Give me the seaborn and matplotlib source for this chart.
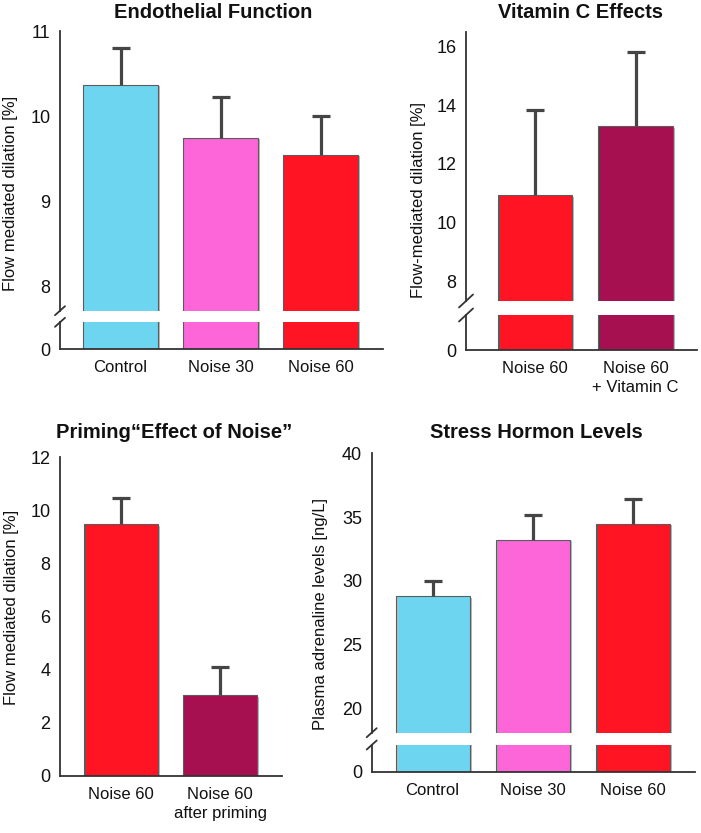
import numpy as np
import pandas as pd
import matplotlib
matplotlib.use("Agg")
import matplotlib.pyplot as plt
import matplotlib.patheffects as pe
from matplotlib.lines import Line2D
import seaborn as sns

# ---------------- data ----------------
endo_groups = ["Control", "Noise 30", "Noise 60"]
endo_mean = [10.37, 9.75, 9.55]
endo_top = [10.80, 10.23, 10.00]

vitc_groups = ["Noise 60", "Noise 60\n+ Vitamin C"]
vitc_mean = [10.93, 13.28]
vitc_top = [13.83, 15.81]

prim_groups = ["Noise 60", "Noise 60\nafter priming"]
prim_mean = [9.49, 3.04]
prim_top = [10.46, 4.09]

stress_groups = ["Control", "Noise 30", "Noise 60"]
stress_mean = [28.82, 33.22, 34.47]
stress_top = [29.95, 35.18, 36.43]

endo_ticks = [8, 9, 10, 11]
vitc_ticks = [8, 10, 12, 14, 16]
prim_ticks = [0, 2, 4, 6, 8, 10, 12]
stress_ticks = [20, 25, 30, 35, 40]

CYAN, PINK, RED, MAROON = "#6dd5ef", "#fc66d8", "#ff1423", "#a60f50"

# ---------------- style ----------------
sns.set_style("white")
plt.rcParams["font.family"] = ["Liberation Sans", "DejaVu Sans"]
SPINE = "#333333"
FS = 12

W, H = 701, 833
fig = plt.figure(figsize=(W / 100, H / 100), dpi=100)


def px_axes(left, top, right, bottom):
    return fig.add_axes([left / W, 1 - bottom / H, (right - left) / W, (bottom - top) / H])


def draw_bars(ax, groups, means, colors, width):
    df = pd.DataFrame({"group": groups, "value": means})
    sns.barplot(data=df, x="group", y="value", hue="group", order=groups,
                hue_order=groups, palette=colors, legend=False, width=width,
                saturation=1, edgecolor="#5c5c5c", linewidth=0.8, ax=ax)
    for p in ax.patches:
        p.set_path_effects([pe.SimplePatchShadow(offset=(1.6, -1.2),
                                                 shadow_rgbFace="#8fb3b3", alpha=0.8),
                            pe.Normal()])
    ax.set_xlabel("")
    ax.set_ylabel("")


def draw_err(ax, means, tops):
    n = len(means)
    m = np.array(means)
    t = np.array(tops)
    cont = ax.errorbar(np.arange(n), m, yerr=[np.zeros(n), t - m], fmt="none",
                       ecolor="#454545", elinewidth=2.3, capsize=6.8, capthick=2.3,
                       zorder=1)
    caps = cont.lines[1]
    if len(caps) == 2:
        caps[0].set_visible(False)


def style_axis(ax):
    for s in ["top", "right"]:
        ax.spines[s].set_visible(False)
    for s in ["left", "bottom"]:
        ax.spines[s].set_color(SPINE)
        ax.spines[s].set_linewidth(1.3)
    ax.tick_params(axis="y", direction="out", length=6, width=1.3, color=SPINE,
                   pad=1, labelsize=FS + 1, labelcolor="#111111")
    ax.tick_params(axis="x", length=0, pad=8, labelsize=FS, labelcolor="#111111")


def slash(xc, yc, dx, dy):
    fig.add_artist(Line2D([(xc - dx) / W, (xc + dx) / W],
                          [1 - (yc + dy) / H, 1 - (yc - dy) / H],
                          transform=fig.transFigure, color=SPINE, lw=1.3))


def broken_panel(groups, means, tops, colors, width, left, right, top, cut_px,
                 low_top_px, bottom, y_top, y_cut, ticks, xlim, sdx, sdy):
    ax_up = px_axes(left, top, right, cut_px)
    ax_lo = px_axes(left, low_top_px, right, bottom)
    draw_bars(ax_up, groups, means, colors, width)
    draw_err(ax_up, means, tops)
    draw_bars(ax_lo, groups, means, colors, width)
    for ax in (ax_up, ax_lo):
        style_axis(ax)
        ax.set_xlim(*xlim)
    ax_up.set_ylim(y_cut, y_top)
    ax_up.set_yticks(ticks)
    ax_up.set_yticklabels([str(t) for t in ticks])
    ax_up.spines["bottom"].set_visible(False)
    ax_up.set_xticks([])
    ax_lo.set_ylim(0, 1)
    ax_lo.set_yticks([0])
    ax_lo.set_yticklabels(["0"])
    ax_lo.set_xticks(range(len(groups)))
    ax_lo.set_xticklabels(groups, linespacing=1.35)
    slash(left, cut_px, sdx, sdy)
    slash(left, low_top_px, sdx, sdy)
    return ax_up, ax_lo


# Panel 1: Endothelial Function
broken_panel(endo_groups, endo_mean, endo_top, [CYAN, PINK, RED], 0.75,
             left=60, right=383, top=31, cut_px=310.7, low_top_px=322.3, bottom=349.3,
             y_top=11, y_cut=7.72, ticks=endo_ticks, xlim=(-0.605, 2.625), sdx=5, sdy=4.5)

# Panel 2: Vitamin C Effects
broken_panel(vitc_groups, vitc_mean, vitc_top, [RED, MAROON], 0.74,
             left=466, right=697, top=32.3, cut_px=301, low_top_px=315, bottom=350,
             y_top=16.49, y_cut=7.32, ticks=vitc_ticks, xlim=(-0.687, 1.612), sdx=7, sdy=6.5)

# Panel 3: Priming
ax3 = px_axes(60, 457.3, 282, 776)
draw_bars(ax3, prim_groups, prim_mean, [RED, MAROON], 0.75)
draw_err(ax3, prim_mean, prim_top)
style_axis(ax3)
ax3.set_xlim(-0.616, 1.626)
ax3.set_ylim(0, 12)
ax3.set_yticks(prim_ticks)
ax3.set_yticklabels([str(t) for t in prim_ticks])
ax3.set_xticks(range(len(prim_groups)))
ax3.set_xticklabels(prim_groups, linespacing=1.35)
ax3.spines["left"].set_bounds(0, 12)

# Panel 4: Stress Hormon Levels
broken_panel(stress_groups, stress_mean, stress_top, [CYAN, PINK, RED], 0.74,
             left=371.7, right=695, top=453.3, cut_px=732.7, low_top_px=745, bottom=771.7,
             y_top=40, y_cut=18.09, ticks=stress_ticks, xlim=(-0.608, 2.625), sdx=5, sdy=4.5)

# Titles
tkw = dict(ha="center", va="center", fontsize=14.5, fontweight="bold",
           family=["Liberation Sans", "DejaVu Sans"], color="#111111")
fig.text(213 / W, 1 - 13 / H, "Endothelial Function", **tkw)
fig.text(580 / W, 1 - 13 / H, "Vitamin C Effects", **tkw)
fig.text(174 / W, 1 - 433 / H, "Priming\u201cEffect of Noise\u201d", **tkw)
fig.text(536 / W, 1 - 432 / H, "Stress Hormon Levels", **tkw)

# Y labels
ykw = dict(ha="center", va="center", rotation=90, fontsize=FS, color="#111111")
fig.text(11 / W, 1 - 193 / H, "Flow mediated dilation [%]", **ykw)
fig.text(418 / W, 1 - 200 / H, "Flow-mediated dilation [%]", **ykw)
fig.text(12 / W, 1 - 607 / H, "Flow mediated dilation [%]", **ykw)
fig.text(321 / W, 1 - 614 / H, "Plasma adrenaline levels [ng/L]", **ykw)

fig.savefig("out.png", dpi=100, facecolor="white")
